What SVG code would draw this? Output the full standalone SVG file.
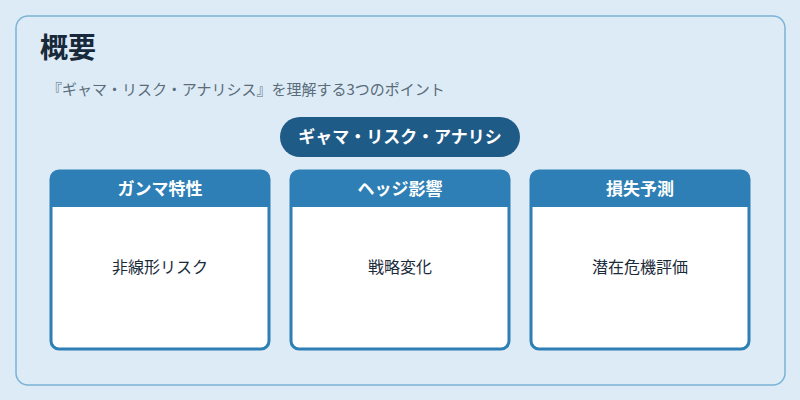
<svg xmlns="http://www.w3.org/2000/svg" width="800" height="400" viewBox="0 0 800 400">
<style>
text{font-family:"Noto Sans CJK JP","Noto Sans",sans-serif}
.card{fill:#fff;stroke:#2e7fb5;stroke-width:3}
.hd{fill:#2e7fb5}
.ht{fill:#fff;font-size:17px;font-weight:bold;text-anchor:middle}
.bt{fill:#1a2b3a;font-size:16px;text-anchor:middle}
</style>
<rect width="800" height="400" fill="#dcebf6"/>
<rect x="16" y="16" width="769" height="369" rx="12" fill="#dcebf6" stroke="#7ab3d6" stroke-width="1.5"/>
<text x="40" y="58" font-size="28" font-weight="bold" fill="#17293a">概要</text>
<text x="47" y="95" font-size="15" fill="#5a6b7a">『ギャマ・リスク・アナリシス』を理解する3つのポイント</text>
<g id="title">
<rect x="280" y="117" width="240" height="40" rx="20" fill="#1f5b87"/>
<text x="400" y="143" font-size="17" font-weight="bold" fill="#fff" text-anchor="middle">ギャマ・リスク・アナリシ</text>
</g>
<g id="n1">
<rect class="card" x="51" y="171" width="218" height="178" rx="8"/>
<path class="hd" d="M51 207V179a8 8 0 0 1 8-8H261a8 8 0 0 1 8 8V207Z"/>
<text class="ht" x="160" y="195">ガンマ特性</text>
<text class="bt" x="160" y="273">非線形リスク</text>
</g>
<g id="n2">
<rect class="card" x="291" y="171" width="218" height="178" rx="8"/>
<path class="hd" d="M291 207V179a8 8 0 0 1 8-8H501a8 8 0 0 1 8 8V207Z"/>
<text class="ht" x="400" y="195">ヘッジ影響</text>
<text class="bt" x="400" y="273">戦略変化</text>
</g>
<g id="n3">
<rect class="card" x="531" y="171" width="218" height="178" rx="8"/>
<path class="hd" d="M531 207V179a8 8 0 0 1 8-8H741a8 8 0 0 1 8 8V207Z"/>
<text class="ht" x="640" y="195">損失予測</text>
<text class="bt" x="640" y="273">潜在危機評価</text>
</g>
<g id="connectors"></g>
</svg>
